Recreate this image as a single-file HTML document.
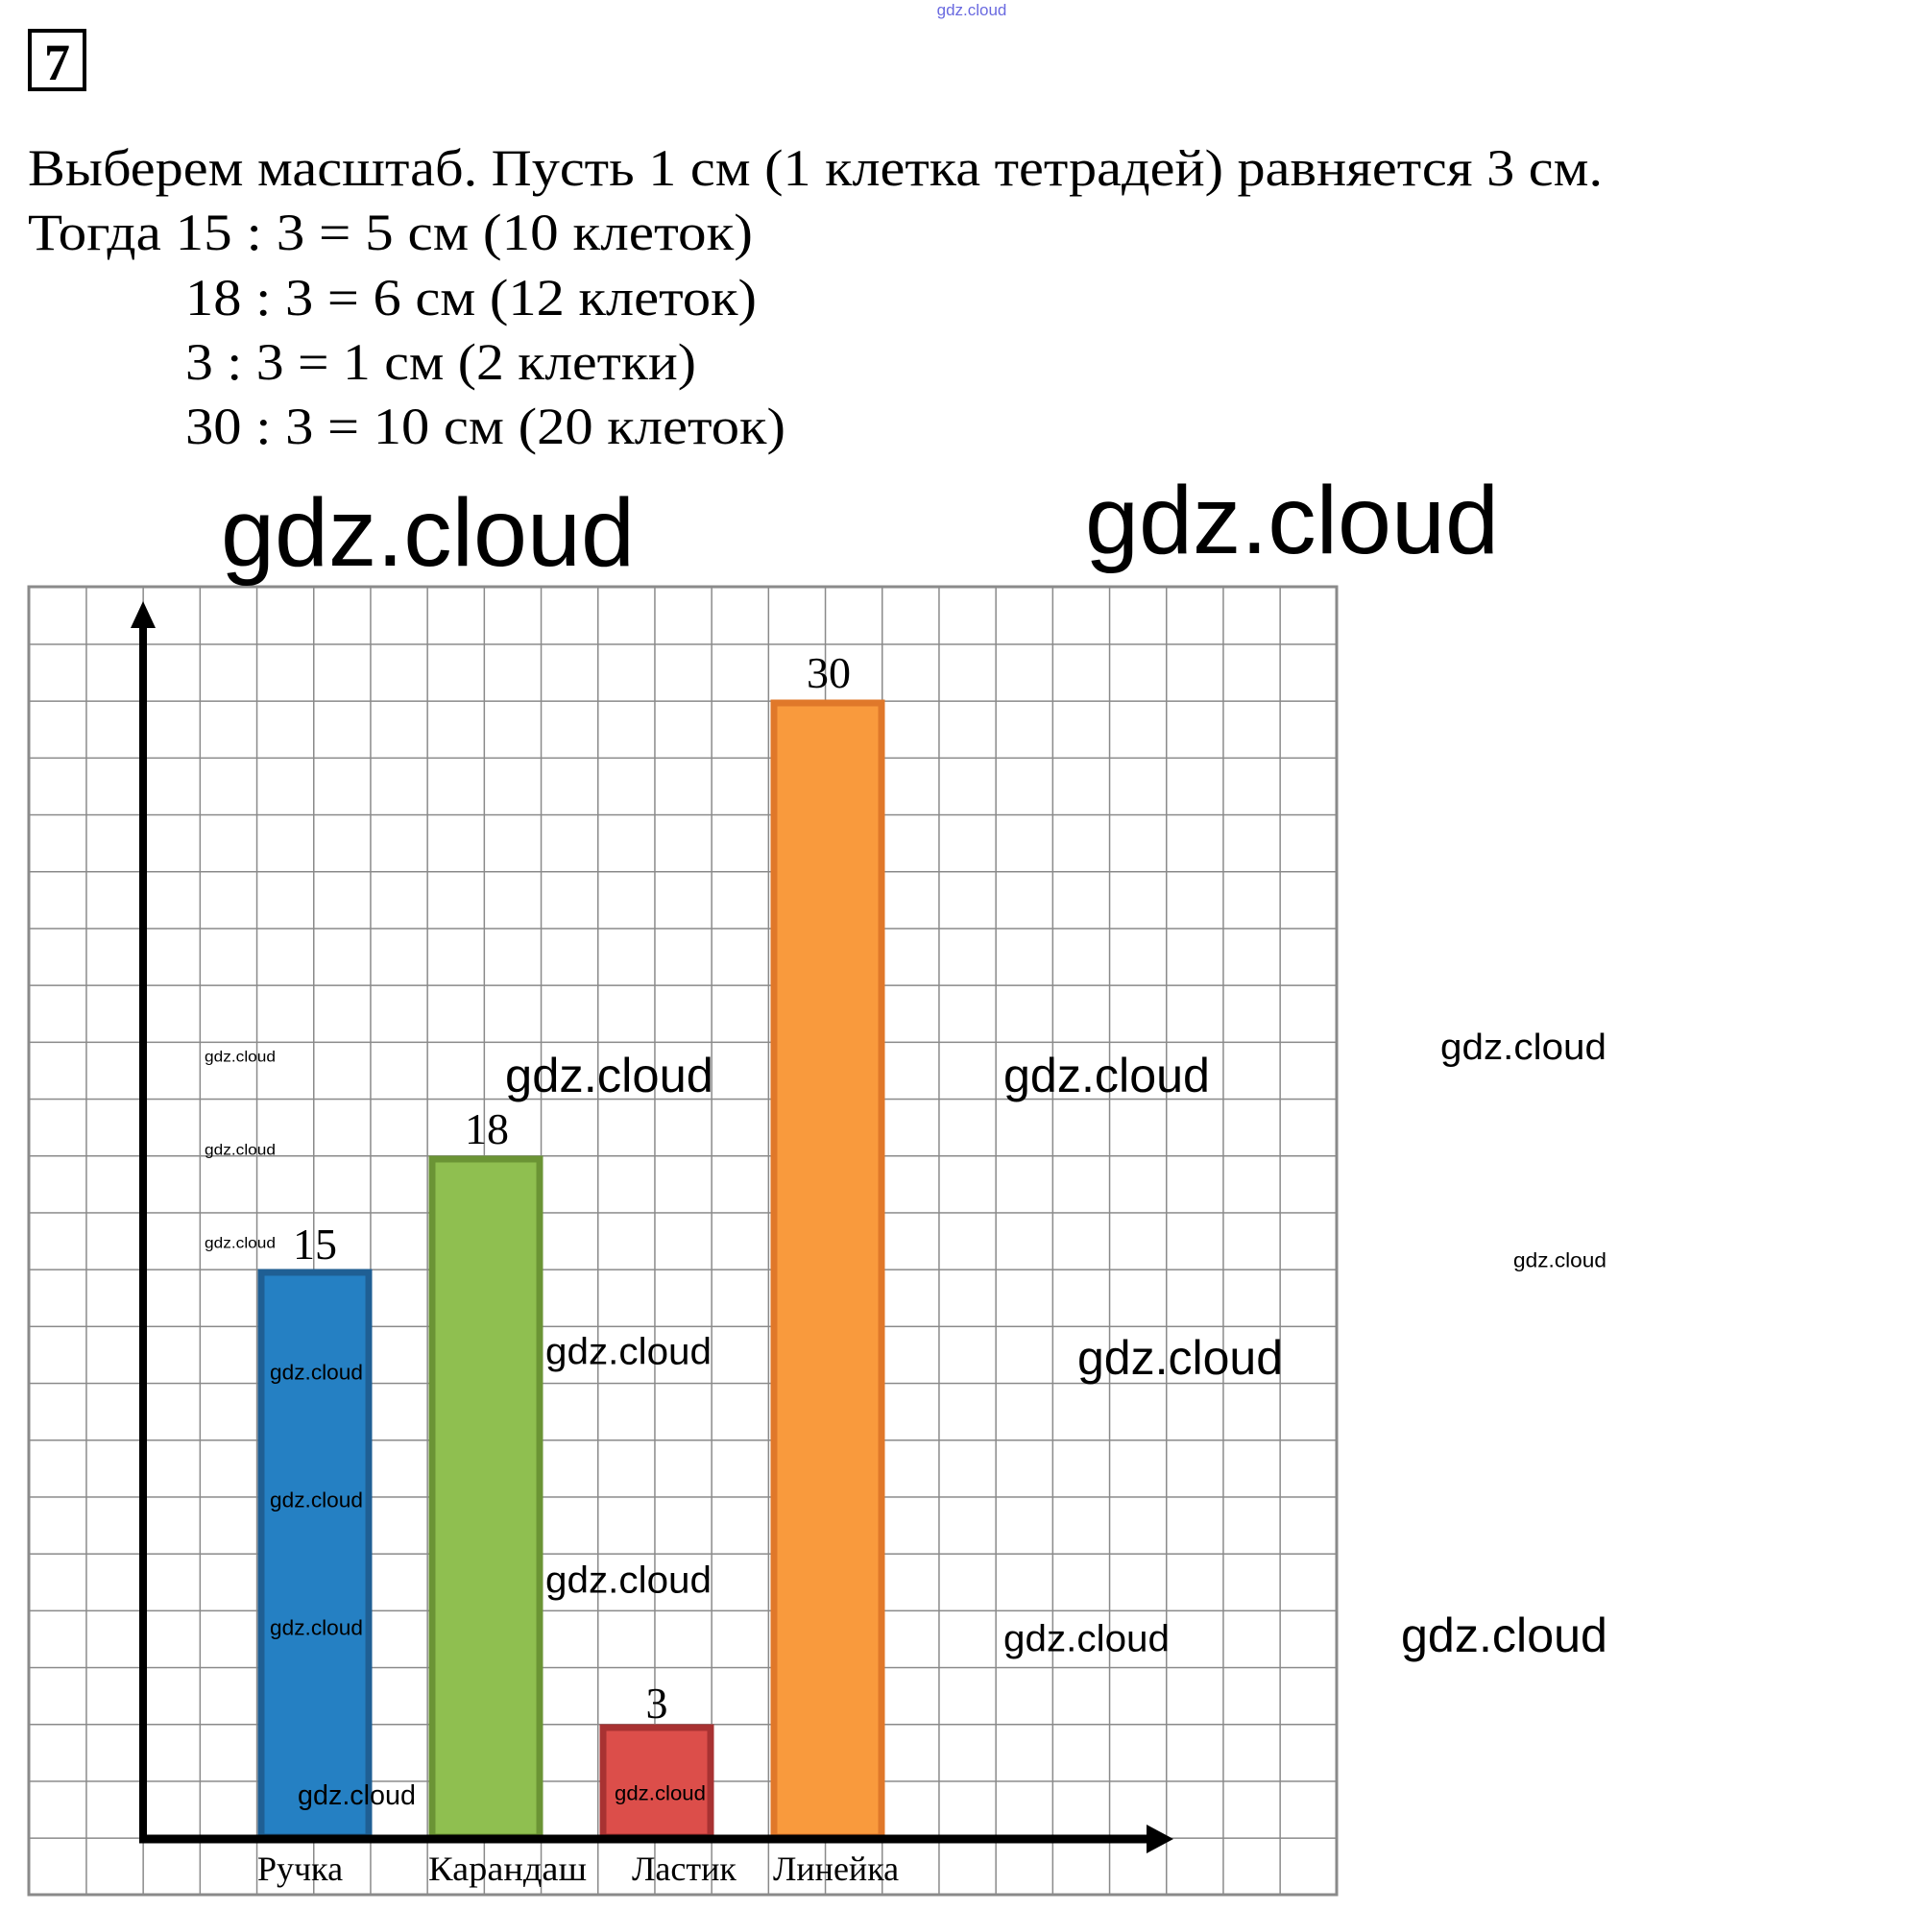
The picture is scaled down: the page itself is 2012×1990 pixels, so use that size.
<!DOCTYPE html>
<html><head><meta charset="utf-8"><style>
html,body{margin:0;padding:0;background:#fff;}
svg{display:block;}
</style></head><body>
<svg width="2012" height="1990" viewBox="0 0 2012 1990" xmlns="http://www.w3.org/2000/svg">
<defs>
<pattern id="g" x="30" y="611" width="59.2" height="59.2" patternUnits="userSpaceOnUse">
<path d="M0 0H59.2M0 0V59.2" stroke="#8a8a8a" stroke-width="3" fill="none"/>
</pattern>
</defs>
<text x="1012" y="16" font-family="Liberation Sans, sans-serif" font-size="17" fill="#6a6ae0" text-anchor="middle">gdz.cloud</text>
<rect x="31" y="32" width="57" height="61" fill="none" stroke="#000" stroke-width="4"/>
<text x="59.5" y="83" font-family="Liberation Serif, serif" font-weight="bold" font-size="54" text-anchor="middle">7</text>
<g font-family="Liberation Serif, serif" font-size="54" fill="#000">
<text x="29" y="193" textLength="1640" lengthAdjust="spacingAndGlyphs">Выберем масштаб. Пусть 1 см (1 клетка тетрадей) равняется 3 см.</text>
<text x="29" y="260" textLength="755" lengthAdjust="spacingAndGlyphs">Тогда 15 : 3 = 5 см (10 клеток)</text>
<text x="193" y="328" textLength="595" lengthAdjust="spacingAndGlyphs">18 : 3 = 6 см (12 клеток)</text>
<text x="193" y="395" textLength="532" lengthAdjust="spacingAndGlyphs">3 : 3 = 1 см (2 клетки)</text>
<text x="193" y="462" textLength="625" lengthAdjust="spacingAndGlyphs">30 : 3 = 10 см (20 клеток)</text>
</g>
<rect x="30" y="611" width="1362" height="1362" fill="url(#g)"/>
<rect x="30" y="611" width="1362" height="1362" fill="none" stroke="#8a8a8a" stroke-width="3"/>
<!-- bars -->
<rect x="272" y="1325" width="112" height="588" fill="#2580c3" stroke="#1f5f94" stroke-width="7"/>
<rect x="450" y="1207" width="112" height="706" fill="#8fbf50" stroke="#6b9435" stroke-width="7"/>
<rect x="628" y="1799" width="112" height="114" fill="#dc4e4a" stroke="#a83232" stroke-width="7"/>
<rect x="806" y="732" width="112" height="1181" fill="#f99a3d" stroke="#e0782a" stroke-width="7"/>
<!-- axes -->
<line x1="149" y1="650" x2="149" y2="1919" stroke="#000" stroke-width="8"/>
<polygon points="136,654 149,626 162,654" fill="#000"/>
<line x1="145" y1="1915" x2="1200" y2="1915" stroke="#000" stroke-width="9"/>
<polygon points="1194,1900 1222,1915 1194,1930" fill="#000"/>
<!-- values -->
<g font-family="Liberation Serif, serif" font-size="46" text-anchor="middle" fill="#000">
<text x="863" y="716">30</text>
<text x="507" y="1191">18</text>
<text x="328" y="1311">15</text>
<text x="684" y="1789">3</text>
</g>
<g font-family="Liberation Serif, serif" font-size="36" fill="#000">
<text x="268" y="1958">Ручка</text>
<text x="446" y="1958" textLength="165" lengthAdjust="spacingAndGlyphs">Карандаш</text>
<text x="658" y="1958">Ластик</text>
<text x="805" y="1958">Линейка</text>
</g>
<!-- watermarks -->
<g font-family="Liberation Sans, sans-serif" fill="#000" dominant-baseline="central" lengthAdjust="spacingAndGlyphs">
<text x="230" y="555" font-size="100" textLength="431" lengthAdjust="spacingAndGlyphs">gdz.cloud</text>
<text x="1130" y="542" font-size="100" textLength="431" lengthAdjust="spacingAndGlyphs">gdz.cloud</text>
<text x="526" y="1120" font-size="50" textLength="217" lengthAdjust="spacingAndGlyphs">gdz.cloud</text>
<text x="1045" y="1120" font-size="50" textLength="215" lengthAdjust="spacingAndGlyphs">gdz.cloud</text>
<text x="1500" y="1091" font-size="38" textLength="173" lengthAdjust="spacingAndGlyphs">gdz.cloud</text>
<text x="213" y="1101" font-size="16" textLength="74" lengthAdjust="spacingAndGlyphs">gdz.cloud</text>
<text x="213" y="1198" font-size="16" textLength="74" lengthAdjust="spacingAndGlyphs">gdz.cloud</text>
<text x="213" y="1295" font-size="16" textLength="74" lengthAdjust="spacingAndGlyphs">gdz.cloud</text>
<text x="1576" y="1313" font-size="21" textLength="97" lengthAdjust="spacingAndGlyphs">gdz.cloud</text>
<text x="281" y="1429" font-size="22" textLength="97" lengthAdjust="spacingAndGlyphs">gdz.cloud</text>
<text x="281" y="1562" font-size="22" textLength="97" lengthAdjust="spacingAndGlyphs">gdz.cloud</text>
<text x="281" y="1695" font-size="22" textLength="97" lengthAdjust="spacingAndGlyphs">gdz.cloud</text>
<text x="568" y="1408" font-size="39" textLength="173" lengthAdjust="spacingAndGlyphs">gdz.cloud</text>
<text x="1122" y="1414" font-size="50" textLength="214" lengthAdjust="spacingAndGlyphs">gdz.cloud</text>
<text x="568" y="1646" font-size="39" textLength="173" lengthAdjust="spacingAndGlyphs">gdz.cloud</text>
<text x="1045" y="1707" font-size="39" textLength="173" lengthAdjust="spacingAndGlyphs">gdz.cloud</text>
<text x="1459" y="1703" font-size="50" textLength="215" lengthAdjust="spacingAndGlyphs">gdz.cloud</text>
<text x="310" y="1870" font-size="29" textLength="123" lengthAdjust="spacingAndGlyphs">gdz.cloud</text>
<text x="640" y="1868" font-size="21" textLength="95" lengthAdjust="spacingAndGlyphs">gdz.cloud</text>
</g>
</svg>
</body></html>
